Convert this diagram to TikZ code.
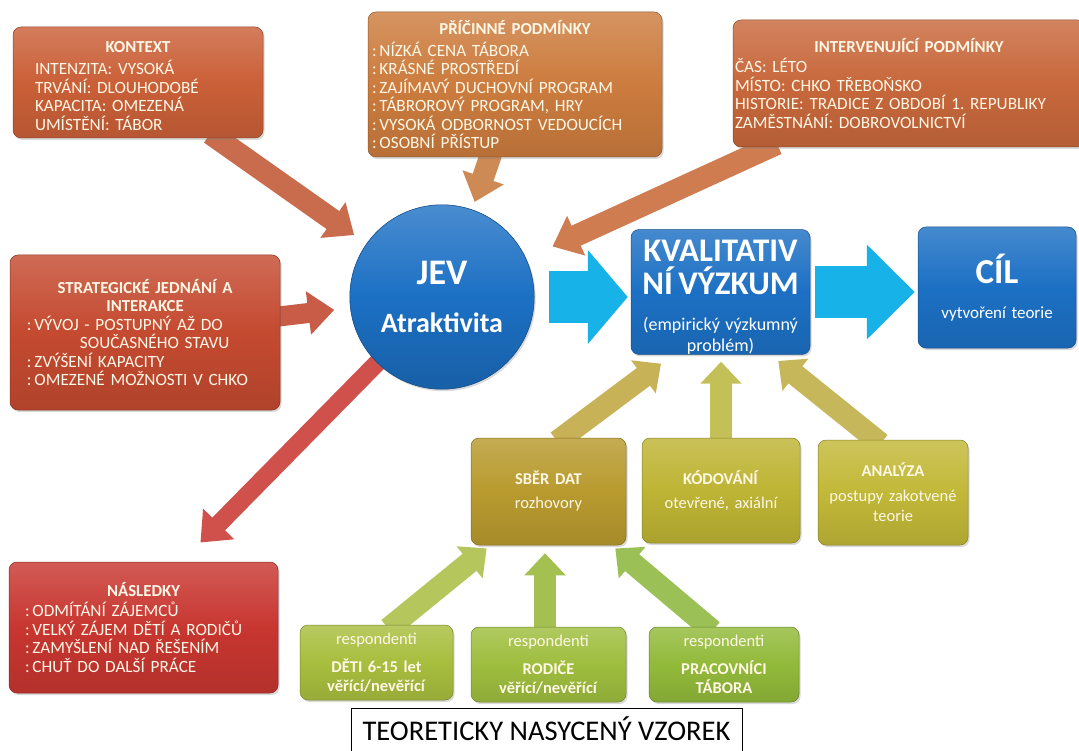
\documentclass[tikz,border=0pt]{standalone}
\usepackage{fontspec}
\setmainfont{Carlito}
\usetikzlibrary{arrows.meta,shadows,backgrounds}

\definecolor{ctxorange}{RGB}{202,96,56}
\definecolor{causeorange}{RGB}{204,124,62}
\definecolor{intorange}{RGB}{200,104,60}
\definecolor{stratred}{RGB}{196,74,48}
\definecolor{consred}{RGB}{200,54,48}
\definecolor{jevblue}{RGB}{28,112,196}
\definecolor{arrcyan}{RGB}{22,178,232}
\definecolor{sbergold}{RGB}{184,154,46}
\definecolor{kodyellow}{RGB}{190,180,52}
\definecolor{analyellow}{RGB}{194,184,56}
\definecolor{detigreen}{RGB}{168,190,62}
\definecolor{rodgreen}{RGB}{158,190,62}
\definecolor{pracgreen}{RGB}{146,186,58}
\definecolor{ctxarrow}{RGB}{201,108,78}
\definecolor{causearrow}{RGB}{206,138,84}
\definecolor{intarrow}{RGB}{206,124,80}
\definecolor{stratarrow}{RGB}{200,92,70}
\definecolor{consarrow}{RGB}{208,80,76}
\definecolor{sberarrow}{RGB}{200,178,88}
\definecolor{kodarrow}{RGB}{196,192,88}
\definecolor{analarrow}{RGB}{198,184,90}
\definecolor{detiarrow}{RGB}{180,198,92}
\definecolor{rodarrow}{RGB}{164,192,80}
\definecolor{pracarrow}{RGB}{154,192,86}
\definecolor{boxtext}{RGB}{255,247,230}

\setlength{\parindent}{0pt}
\frenchspacing
\newcommand{\fs}[2]{\fontsize{#1}{#2}\selectfont\lineskiplimit=-50pt\relax}
\newcommand{\boxhead}[1]{{\centering\fontsize{16.8}{18.5}\selectfont\bfseries #1\par}}

\tikzset{
	catbox/.style={draw=#1!70!black, line width=0.5pt, rounded corners=8pt,
		top color=#1!82!white, bottom color=#1!90!black, middle color=#1,
		text=boxtext, inner sep=0pt, align=left, font={\fs{17.2}{18.5}},
		drop shadow={opacity=0.3, shadow xshift=1.5pt, shadow yshift=-2pt}},
	stepbox/.style={catbox=#1, align=center, font={\fs{16.5}{18.5}}},
	catarrow/.style={draw=#1, line width=22pt, -{Triangle[width=42pt,length=26pt]}},
	steparrow/.style={draw=#1, line width=22pt, -{Triangle[width=40pt,length=22pt]}},
	cyanarrow/.style={draw=arrcyan, line width=52pt}
}
\tikzset{every picture/.style={line width=0.75pt}}

\begin{document}
\begin{tikzpicture}[x=1pt,y=1pt,yscale=-1,xscale=1]
	\useasboundingbox (0,0) rectangle (1079,751);
	\clip (0,0) rectangle (1079,751);

	%Shape: Rounded Rect -- context boxes
	\node[catbox=ctxorange, minimum width=250pt, minimum height=111pt, text width=206pt] (kontext) at (138,82.5)
		{\boxhead{\rule{0pt}{18pt}KONTEXT}\vspace{3.5pt}INTENZITA: VYSOKÁ\\TRVÁNÍ: DLOUHODOBÉ\\KAPACITA: OMEZENÁ\\UMÍSTĚNÍ: TÁBOR};
	\node[catbox=causeorange, minimum width=294pt, minimum height=145pt, text width=286pt] (pricinne) at (515,84.5)
		{\boxhead{PŘÍČINNÉ PODMÍNKY}\vspace{3.5pt}:\,NÍZKÁ CENA TÁBORA\\:\,KRÁSNÉ PROSTŘEDÍ\\:\,ZAJÍMAVÝ DUCHOVNÍ PROGRAM\\:\,TÁBROROVÝ PROGRAM, HRY\\:\,VYSOKÁ ODBORNOST VEDOUCÍCH\\:\,OSOBNÍ PŘÍSTUP};
	\node[catbox=intorange, minimum width=352pt, minimum height=127pt, text width=348pt] (interv) at (909,83.5)
		{\boxhead{INTERVENUJÍCÍ PODMÍNKY}\vspace{1.5pt}ČAS: LÉTO\\MÍSTO: CHKO TŘEBOŇSKO\\HISTORIE: TRADICE Z OBDOBÍ 1. REPUBLIKY\\ZAMĚSTNÁNÍ: DOBROVOLNICTVÍ};
	\node[catbox=stratred, minimum width=270pt, minimum height=155pt, text width=236pt] (strat) at (145,332.5)
		{\boxhead{STRATEGICKÉ JEDNÁNÍ A\\INTERAKCE}:\,VÝVOJ - POSTUPNÝ AŽ DO\\\hspace*{53pt}SOUČASNÉHO STAVU\\:\,ZVÝŠENÍ KAPACITY\\:\,OMEZENÉ MOŽNOSTI V CHKO};
	\node[catbox=consred, minimum width=269pt, minimum height=131pt, text width=237pt] (nasl) at (143.5,627.5)
		{\boxhead{NÁSLEDKY}\vspace{1.5pt}:\,ODMÍTÁNÍ ZÁJEMCŮ\\:\,VELKÝ ZÁJEM DĚTÍ A RODIČŮ\\:\,ZAMYŠLENÍ NAD ŘEŠENÍM\\:\,CHUŤ DO DALŠÍ PRÁCE};

	%Shape: Circle -- phenomenon
	\node[circle, draw=jevblue!70!black, line width=0.6pt, top color=jevblue!80!white, bottom color=jevblue!85!black, middle color=jevblue,
		minimum size=178pt, inner sep=0pt, text width=170pt, align=center, text=white,
		drop shadow={opacity=0.3, shadow xshift=1.5pt, shadow yshift=-2pt}] (jev) at (442,297)
		{{\fs{36}{40}\bfseries JEV\par}\vspace{14pt}{\fs{28}{34}\bfseries Atraktivita\par}};

	%Shape: Rounded Rect -- research and goal
	\node[stepbox=jevblue, text=white, minimum width=179pt, minimum height=124pt, text width=175pt] (kval) at (720.5,292)
		{{\fs{33}{33}\bfseries \rule{0pt}{32pt}KVALITATIV\\NÍ VÝZKUM\par}\vspace{15pt}{\fs{18}{21}(empirický výzkumný\\problém)\par}};
	\node[stepbox=jevblue, text=white, minimum width=158pt, minimum height=121pt, text width=150pt] (cil) at (997,287.5)
		{{\fs{35}{40}\bfseries CÍL\par}\vspace{15pt}{\fs{17}{20}vytvoření teorie\par}};

	%Shape: Rounded Rect -- method steps
	\node[stepbox=sbergold, minimum width=155pt, minimum height=107pt, text width=145pt] (sber) at (548.5,491.5)
		{\textbf{SBĚR DAT}\\[5.5pt]rozhovory};
	\node[stepbox=kodyellow, minimum width=158pt, minimum height=105pt, text width=150pt] (kod) at (721,490.5)
		{\textbf{KÓDOVÁNÍ}\\[5.5pt]otevřené, axiální};
	\node[stepbox=analyellow, minimum width=150pt, minimum height=105pt, text width=146pt] (anal) at (893,492.5)
		{\textbf{ANALÝZA}\\[6.5pt]postupy zakotvené\\[1.5pt]teorie};

	%Shape: Rounded Rect -- respondents
	\node[stepbox=detigreen, minimum width=153pt, minimum height=75pt, text width=145pt] (deti) at (376.5,662.5)
		{respondenti\\[9.5pt]\textbf{DĚTI 6-15 let}\\\textbf{věřící/nevěřící}};
	\node[stepbox=rodgreen, minimum width=155pt, minimum height=75pt, text width=145pt] (rodice) at (548.5,664.5)
		{respondenti\\[9.5pt]\textbf{RODIČE}\\\textbf{věřící/nevěřící}};
	\node[stepbox=pracgreen, minimum width=150pt, minimum height=75pt, text width=145pt] (prac) at (724,664.5)
		{respondenti\\[9.5pt]\textbf{PRACOVNÍCI}\\\textbf{TÁBORA}};

	% Text Node
	\node[draw=black, line width=0.8pt, fill=white, anchor=north, minimum width=391pt, inner xsep=0pt, inner ysep=4pt,
		text height=28pt, text depth=16pt, font={\fs{28.5}{30}}] (vzorek) at (546.5,708) {TEORETICKY NASYCENÝ VZOREK};

	\begin{scope}[on background layer]
		%Straight Lines -- into the phenomenon
		\draw[catarrow=ctxarrow, shorten <=-8pt, shorten >=15pt] (kontext) -- (jev);
		\draw[catarrow=causearrow, shorten <=-8pt, shorten >=8pt] (pricinne) -- (jev);
		\draw[catarrow=intarrow, shorten <=-8pt, shorten >=29pt] (interv) -- (jev);
		\draw[catarrow=stratarrow, line width=20pt, shorten <=-8pt, shorten >=16pt] (strat) -- (jev);
		\draw[catarrow=consarrow, line width=18pt, shorten <=-8pt, shorten >=27pt] (jev) -- ([xshift=38pt]nasl.north);
		%Straight Lines -- main flow
		\draw[cyanarrow, -{Triangle[width=92pt,length=40pt]}, shorten <=14pt, shorten >=3pt] (jev.east) -- (jev.east -| kval.west);
		\draw[cyanarrow, -{Triangle[width=92pt,length=48pt]}, shorten <=5pt, shorten >=3pt] (kval.east) -- (kval.east -| cil.west);
		%Straight Lines -- steps into research
		\draw[steparrow=sberarrow, shorten <=-6pt, shorten >=15pt] ([xshift=13.5pt]sber.north) -- ([xshift=-47.5pt]kval.south);
		\draw[steparrow=kodarrow, shorten <=-6pt, shorten >=7pt] (kod) -- (kod |- kval.south);
		\draw[steparrow=analarrow, shorten <=-6pt, shorten >=10pt] ([xshift=-17pt]anal.north) -- ([xshift=50pt]kval.south);
		%Straight Lines -- respondents into data collection
		\draw[steparrow=detiarrow, shorten <=-6pt, shorten >=5pt] ([xshift=16.5pt]deti.north) -- ([xshift=-58pt]sber.south);
		\draw[steparrow=rodarrow, shorten <=-6pt, shorten >=8pt] ([xshift=-3.5pt]rodice.north) -- ([xshift=-3.5pt]sber.south);
		\draw[steparrow=pracarrow, shorten <=-6pt, shorten >=5pt] ([xshift=-16pt]prac.north) -- ([xshift=63pt]sber.south);
	\end{scope}
\end{tikzpicture}
\end{document}
